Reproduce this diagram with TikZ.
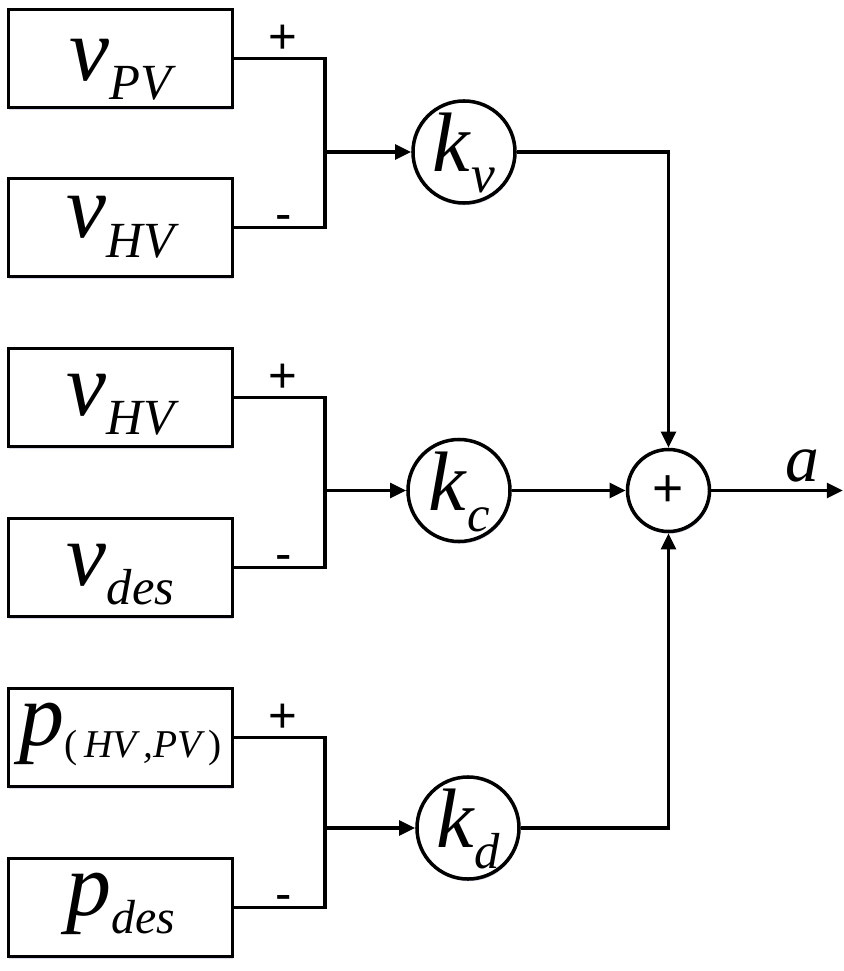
\documentclass[tikz,border=0pt]{standalone}
\usepackage{fontspec}
\setmainfont{Liberation Serif}
\setsansfont{Liberation Sans}
\usetikzlibrary{arrows.meta,positioning,calc,shadows}

% italic symbol with a lowered, smaller subscript
\newcommand{\varlbl}[4][36]{\textit{#3}\raisebox{-#2em}{\fontsize{#1}{#1}\selectfont\itshape #4}}

\begin{document}
\begin{tikzpicture}[x=0.025cm, y=-0.025cm,
    shade/.style={drop shadow={shadow xshift=0.6pt, shadow yshift=-1.6pt, fill=blue!40!gray, opacity=0.22}},
    blk/.style={draw, fill=white, shade, line width=2.7pt, minimum width=5.6cm, minimum height=2.45cm, inner sep=0pt,
        text height=40pt, text depth=15pt, font=\fontsize{64}{66}\selectfont},
    gain/.style={circle, draw, fill=white, shade, line width=2.5pt, minimum size=2.55cm, inner sep=0pt,
        text height=40pt, text depth=12pt, font=\fontsize{60}{62}\selectfont},
    sumc/.style={circle, draw, fill=white, shade, line width=2.5pt, minimum size=2.05cm, inner sep=0pt,
        text height=23pt, text depth=0pt, font=\sffamily\fontsize{38}{40}\selectfont},
    wire/.style={line width=2.5pt},
    arr/.style={wire, -{Triangle[length=11.5pt,width=10.5pt]}},
    sgn/.style={font=\sffamily\fontsize{35}{37}\selectfont, inner sep=0pt, anchor=base}
]
\useasboundingbox (0,0) rectangle (843,971);

% input blocks
\node[blk, text height=45pt, text depth=14.4pt] (PV) at (120.5,58.5) {\varlbl{0.22}{v}{PV}};
\node[blk, text height=35pt, text depth=20.8pt] (HVa) at (120.5,227.5) {\varlbl{0.22}{v}{HV}};
\node[blk] (HVb) at (120.5,397.5) {\varlbl{0.22}{v}{HV}};
\node[blk] (DES) at (120.5,567.5) {\varlbl{0.22}{v}{des}};
\node[blk, text height=35pt, text depth=24.3pt] (PHP) at (120.5,737.5)
    {\varlbl[28]{0.14}{p}{\textup{(}\,HV\,,PV\,\textup{)}}};
\node[blk, text height=35pt, text depth=24.3pt] (PDES) at (120.5,907.5) {\varlbl[34]{0.2}{p}{des}};

% junctions
\coordinate (Jv) at (325,152);
\coordinate (Jc) at (325,490.5);
\coordinate (Jd) at (325,828);

% gains and sum
\node[gain] (KV) at (464,152) {\varlbl[38]{0.25}{k}{v}};
\node[gain] (KC) at (459,490.5) {\varlbl[36]{0.25}{k}{c}};
\node[gain] (KD) at (468,828) {\varlbl[36]{0.25}{k}{d}};
\node[sumc] (SUM) at (668.5,490.5) {+};
\coordinate (OUT) at (843,490.5);

% differences
\draw[wire] (PV.east) -- node[sgn, pos=0.54, yshift=3.3pt] {+} (PV.east -| Jv)
    -- (HVa.east -| Jv) -- node[sgn, pos=0.46, yshift=-1.9pt] {-} (HVa.east);
\draw[wire] (HVb.east) -- node[sgn, pos=0.54, yshift=3.3pt] {+} (HVb.east -| Jc)
    -- (DES.east -| Jc) -- node[sgn, pos=0.46, yshift=-1.9pt] {-} (DES.east);
\draw[wire] (PHP.east) -- node[sgn, pos=0.54, yshift=3.3pt] {+} (PHP.east -| Jd)
    -- (PDES.east -| Jd) -- node[sgn, pos=0.46, yshift=-1.9pt] {-} (PDES.east);

\draw[arr] (Jv) -- (KV);
\draw[arr] (Jc) -- (KC);
\draw[arr] (Jd) -- (KD);

\draw[arr] (KV) -| (SUM);
\draw[arr] (KC) -- (SUM);
\draw[arr] (KD) -| (SUM);
\draw[arr] (SUM) -- (OUT);
\node[anchor=base, font=\fontsize{48}{50}\selectfont\itshape] (A) at (802.5,481) {a};
\end{tikzpicture}
\end{document}
